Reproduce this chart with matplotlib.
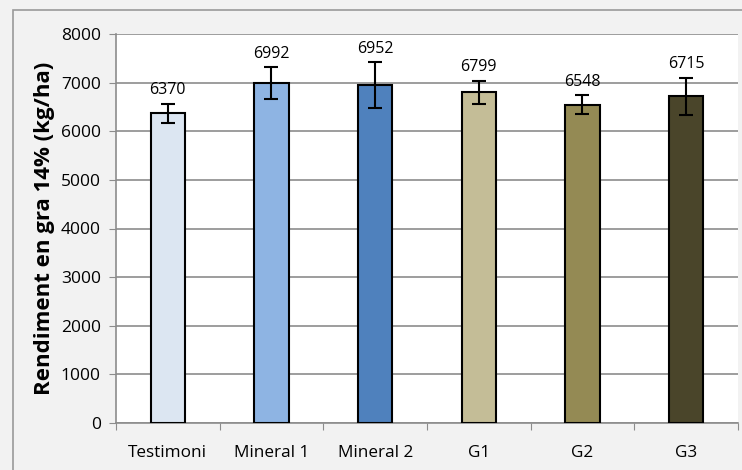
import matplotlib
matplotlib.use("Agg")
import matplotlib.pyplot as plt
from matplotlib.patches import Rectangle
import numpy as np

categories = ["Testimoni", "Mineral 1", "Mineral 2", "G1", "G2", "G3"]
values = [6370, 6992, 6952, 6799, 6548, 6715]
errors = [200, 325, 470, 235, 190, 390]
colors = ["#dce6f2", "#8eb4e3", "#4f81bd", "#c4bd97", "#948a54", "#4a452a"]
yticks = [0, 1000, 2000, 3000, 4000, 5000, 6000, 7000, 8000]

plt.rcParams['font.family'] = ['Open Sans', 'DejaVu Sans']

fig = plt.figure(figsize=(7.42, 4.70), dpi=100, facecolor="#f2f2f2")
ax = fig.add_axes([116/742, 1-423/470, (738-116)/742, (423-34)/470])
ax.set_facecolor("white")

x = np.arange(len(categories))
ax.bar(x, values, width=0.33, color=colors, edgecolor="black", linewidth=1.5, zorder=3,
       yerr=errors, error_kw=dict(ecolor="black", elinewidth=1.5, capsize=5, capthick=1.5, zorder=4))
for xi, v, e in zip(x, values, errors):
    ax.annotate(str(v), (xi, v + e), xytext=(0, 4), textcoords="offset points",
                ha="center", va="bottom", fontsize=11.5, zorder=5)

ax.set_xlim(-0.5, len(categories) - 0.5)
ax.set_ylim(0, 8000)
ax.set_yticks(yticks)
ax.yaxis.grid(True, color="#8c8c8c", linewidth=1.2, zorder=0)
ax.set_axisbelow(True)
ax.set_xticks(np.arange(-0.5, len(categories), 1.0))
ax.set_xticklabels([])
ax.set_xticks(x, minor=True)
ax.set_xticklabels(categories, minor=True, fontsize=12.3)
ax.tick_params(axis="x", which="major", length=5, color="#8c8c8c", direction="out")
ax.tick_params(axis="x", which="minor", length=0, pad=16)
ax.tick_params(axis="y", length=5, color="#8c8c8c", labelsize=12.5, pad=6)
for s in ["top", "right"]:
    ax.spines[s].set_visible(False)
for s in ["left", "bottom"]:
    ax.spines[s].set_color("#8c8c8c")
    ax.spines[s].set_linewidth(1.2)
ax.set_ylabel("Rendiment en gra 14% (kg/ha)", fontsize=16, fontweight="bold", labelpad=4)

fig.patches.append(Rectangle((13/742, -0.1), 1.2, 1 - 10/470 + 0.1, transform=fig.transFigure,
                             fill=False, edgecolor="#9a9a9a", linewidth=1.2))
fig.savefig("out.png", dpi=100, facecolor=fig.get_facecolor())
